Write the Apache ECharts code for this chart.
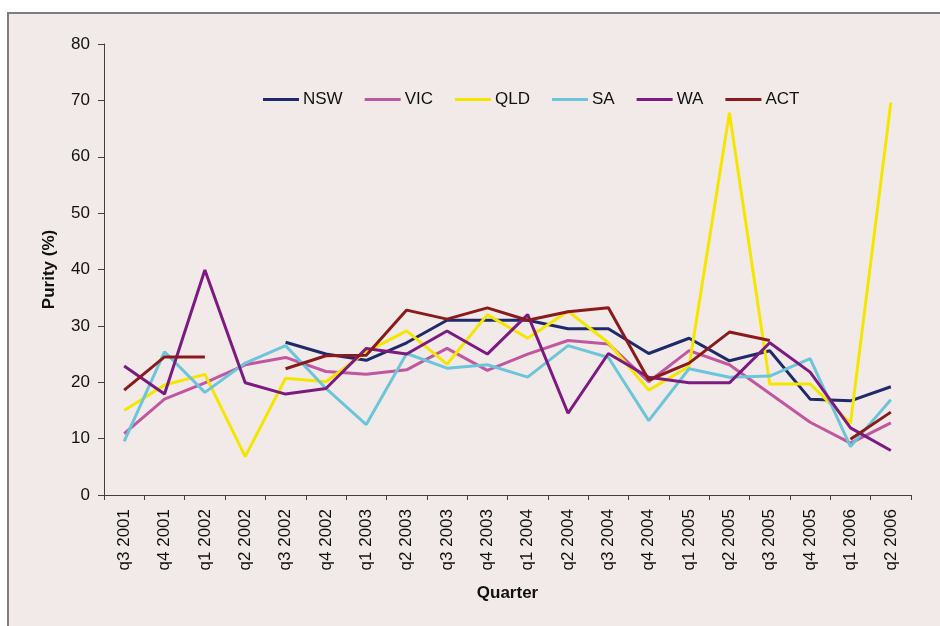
<!DOCTYPE html>
<html>
<head>
<meta charset="utf-8">
<script src="https://cdn.jsdelivr.net/npm/echarts@6/dist/echarts.min.js"></script>
<style>html,body{margin:0;padding:0;background:#fff;}#c{width:940px;height:626px;}</style>
</head>
<body>
<div id="c"></div>
<script>
const categories = ['q3 2001','q4 2001','q1 2002','q2 2002','q3 2002','q4 2002','q1 2003','q2 2003','q3 2003','q4 2003','q1 2004','q2 2004','q3 2004','q4 2004','q1 2005','q2 2005','q3 2005','q4 2005','q1 2006','q2 2006'];
const yTicks = [0,10,20,30,40,50,60,70,80];
const NSW = [null,null,null,null,27.1,25.0,23.9,27.0,31.0,31.0,31.0,29.5,29.5,25.1,27.8,23.8,25.6,17.0,16.7,19.2];
const VIC = [10.9,17.0,19.9,23.1,24.4,21.9,21.4,22.2,26.0,22.1,25.0,27.4,26.8,20.1,25.6,23.1,18.0,12.9,9.2,12.8];
const QLD = [15.0,19.5,21.4,6.8,20.7,20.1,25.4,29.1,23.2,32.0,27.8,32.6,27.0,18.6,22.8,67.8,19.7,19.7,12.7,69.6];
const SA  = [9.5,25.4,18.2,23.4,26.5,18.9,12.5,25.1,22.5,23.1,20.9,26.5,24.4,13.2,22.4,20.9,21.1,24.2,8.6,16.9];
const WA  = [22.9,17.9,39.9,19.9,17.9,18.9,26.0,25.0,29.1,25.0,32.0,14.5,25.1,20.9,19.9,19.9,27.0,21.8,11.9,7.9];
const ACT = [18.6,24.5,24.5,null,22.4,24.7,24.8,32.8,31.2,33.2,31.0,32.5,33.2,20.4,23.4,28.9,27.4,null,9.9,14.7];

const seriesDefs = [
  ['NSW', NSW, '#1f2a6b'],
  ['VIC', VIC, '#c0579f'],
  ['QLD', QLD, '#f5e600'],
  ['SA',  SA,  '#6cc5d9'],
  ['WA',  WA,  '#7d1a80'],
  ['ACT', ACT, '#8a1a1c']
];

const chart = echarts.init(document.getElementById('c'), null, {renderer:'canvas'});
const font = '"Liberation Sans", Arial, sans-serif';
chart.setOption({
  backgroundColor: '#ffffff',
  animation: false,
  graphic: [{
    type: 'rect', z: -10, silent: true,
    shape: {x: 8, y: 13, width: 1000, height: 700},
    style: {fill: '#f2eae9', stroke: '#7f7f7f', lineWidth: 2}
  }],
  grid: {left: 104, right: 29, top: 44, bottom: 131, containLabel: false},
  legend: {
    left: 258, top: 86,
    icon: 'rect', itemWidth: 36, itemHeight: 3, itemGap: 22,
    textStyle: {fontFamily: font, fontSize: 17, color: '#111', padding: [0,0,0,-1]},
    data: seriesDefs.map(s => s[0])
  },
  xAxis: {
    type: 'category', data: categories, boundaryGap: true,
    name: 'Quarter', nameLocation: 'middle', nameGap: 90,
    nameTextStyle: {fontFamily: font, fontSize: 17, fontWeight: 'bold', color: '#111'},
    axisLine: {show: true, lineStyle: {color: '#404040', width: 1}},
    axisTick: {show: true, inside: false, length: 5, alignWithLabel: false, lineStyle: {color: '#404040'}},
    axisLabel: {rotate: 90, interval: 0, margin: 14, fontFamily: font, fontSize: 17, color: '#111'},
    splitLine: {show: false}
  },
  yAxis: {
    type: 'value', min: yTicks[0], max: yTicks[yTicks.length-1], interval: 10,
    name: 'Purity (%)', nameLocation: 'middle', nameGap: 46, nameRotate: 90,
    nameTextStyle: {fontFamily: font, fontSize: 17, fontWeight: 'bold', color: '#111'},
    axisLine: {show: true, lineStyle: {color: '#404040', width: 1}},
    axisTick: {show: true, inside: false, length: 6, lineStyle: {color: '#404040'}},
    axisLabel: {margin: 14, fontFamily: font, fontSize: 17, color: '#111'},
    splitLine: {show: false}
  },
  series: seriesDefs.map(s => ({
    name: s[0], type: 'line', data: s[1], connectNulls: false,
    showSymbol: false, symbol: 'none',
    lineStyle: {color: s[2], width: 3},
    itemStyle: {color: s[2]},
    emphasis: {disabled: true}
  }))
});
</script>
</body>
</html>
